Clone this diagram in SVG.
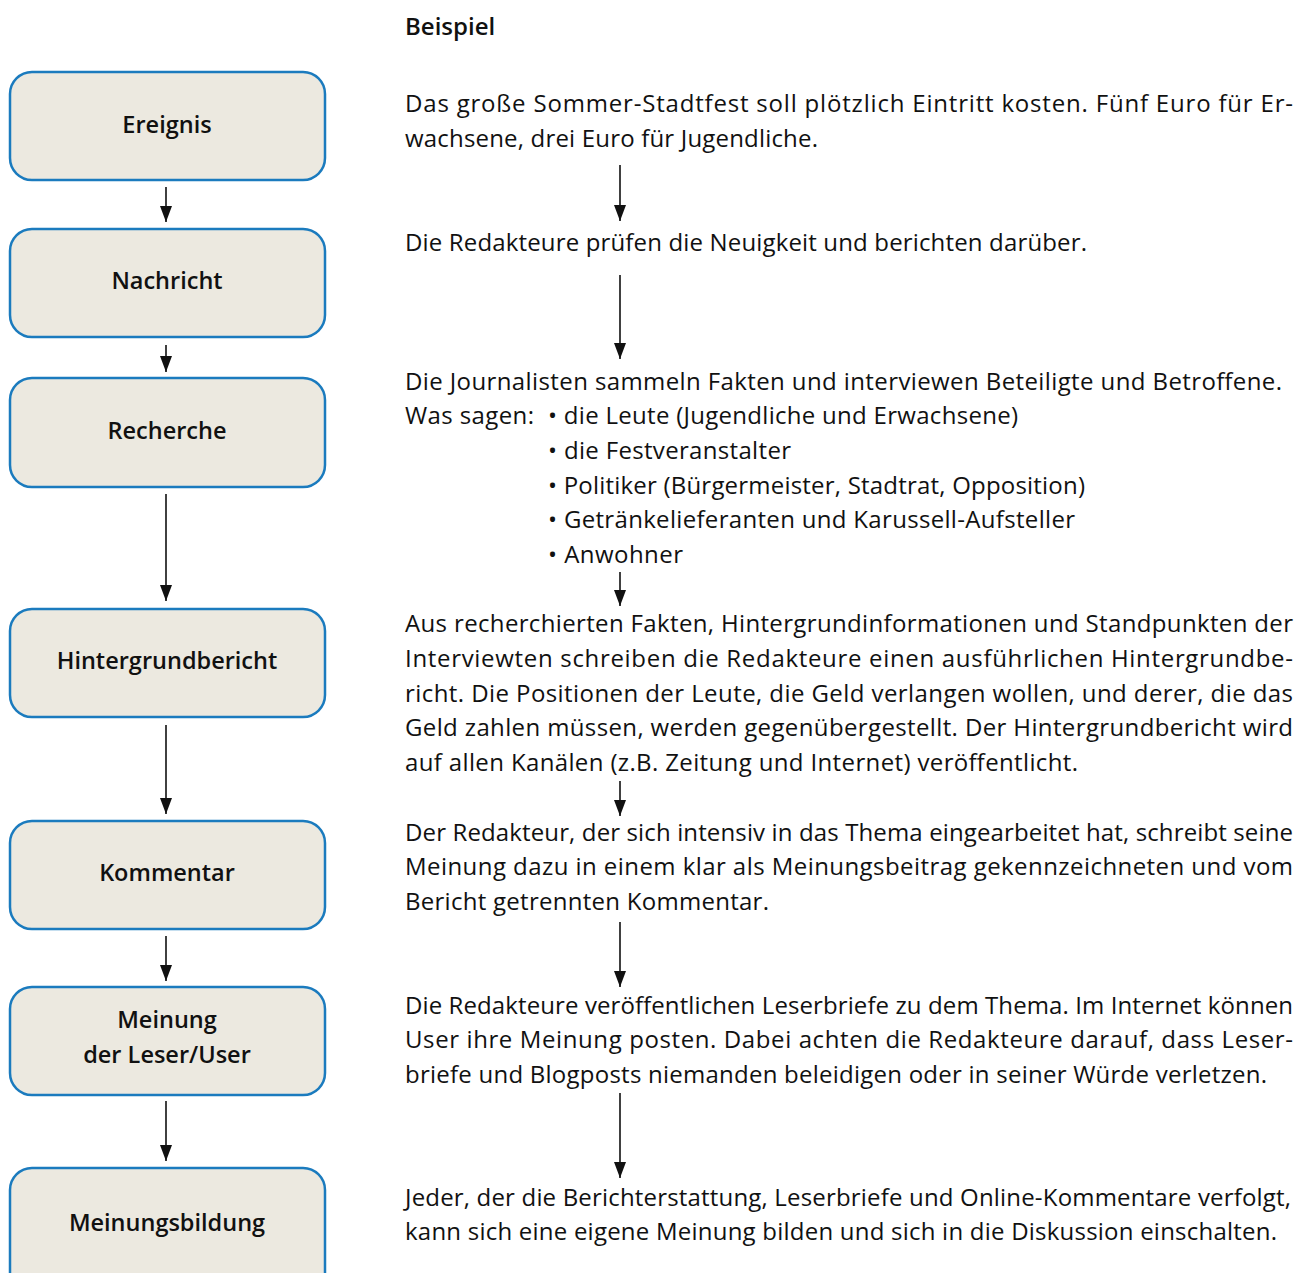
<svg xmlns="http://www.w3.org/2000/svg" width="1302" height="1273" viewBox="0 0 1302 1273">
<style>
.box{fill:#ECE9E0;stroke:#1B7BBE;stroke-width:2.5}
.lbl{font-family:"Open Sans","Noto Sans",sans-serif;font-weight:600;font-size:23.5px;fill:#111;text-anchor:middle}
.t{font-family:"Open Sans","Noto Sans",sans-serif;font-size:24px;fill:#111}
.h{font-family:"Open Sans","Noto Sans",sans-serif;font-weight:600;font-size:24px;fill:#111}
.c{stroke:#111;stroke-width:1.6;fill:none;marker-end:url(#ah)}
</style>
<defs>
<marker id="ah" markerUnits="userSpaceOnUse" markerWidth="16" markerHeight="12" viewBox="0 0 16 12" refX="16" refY="6" orient="auto">
<path d="M0,0 L16,6 L0,12 Z" fill="#111"/>
</marker>
</defs>
<rect width="1302" height="1273" fill="#fff"/>
<g id="node-ereignis"><rect class="box" x="10" y="72" width="315" height="108" rx="22"/><text class="lbl" x="167" y="133">Ereignis</text></g>
<g id="node-nachricht"><rect class="box" x="10" y="229" width="315" height="108" rx="22"/><text class="lbl" x="167" y="289">Nachricht</text></g>
<g id="node-recherche"><rect class="box" x="10" y="378" width="315" height="109" rx="22"/><text class="lbl" x="167" y="439">Recherche</text></g>
<g id="node-hintergrundbericht"><rect class="box" x="10" y="609" width="315" height="108" rx="22"/><text class="lbl" x="167" y="669">Hintergrundbericht</text></g>
<g id="node-kommentar"><rect class="box" x="10" y="821" width="315" height="108" rx="22"/><text class="lbl" x="167" y="881">Kommentar</text></g>
<g id="node-meinung"><rect class="box" x="10" y="987" width="315" height="108" rx="22"/><text class="lbl" x="167" y="1028">Meinung</text><text class="lbl" x="167" y="1063">der Leser/User</text></g>
<g id="node-meinungsbildung"><rect class="box" x="10" y="1168" width="315" height="130" rx="22"/><text class="lbl" x="167" y="1231">Meinungsbildung</text></g>
<g id="connectors">
<line class="c" x1="166" y1="187" x2="166" y2="222"/>
<line class="c" x1="166" y1="345" x2="166" y2="372"/>
<line class="c" x1="166" y1="494" x2="166" y2="601"/>
<line class="c" x1="166" y1="725" x2="166" y2="814"/>
<line class="c" x1="166" y1="936" x2="166" y2="981"/>
<line class="c" x1="166" y1="1101" x2="166" y2="1161"/>
<line class="c" x1="620" y1="165" x2="620" y2="221"/>
<line class="c" x1="620" y1="275" x2="620" y2="359"/>
<line class="c" x1="620" y1="572" x2="620" y2="606"/>
<line class="c" x1="620" y1="781" x2="620" y2="816"/>
<line class="c" x1="620" y1="922" x2="620" y2="987"/>
<line class="c" x1="620" y1="1093" x2="620" y2="1178"/>
</g>
<g id="text">
<text class="h" x="405" y="35">Beispiel</text>
<text class="t" x="405" y="112" textLength="888" lengthAdjust="spacing">Das große Sommer-Stadtfest soll plötzlich Eintritt kosten. Fünf Euro für Er-</text>
<text class="t" x="405" y="147" textLength="413" lengthAdjust="spacing">wachsene, drei Euro für Jugendliche.</text>
<text class="t" x="405" y="251" textLength="682" lengthAdjust="spacing">Die Redakteure prüfen die Neuigkeit und berichten darüber.</text>
<text class="t" x="405" y="390" textLength="877" lengthAdjust="spacing">Die Journalisten sammeln Fakten und interviewen Beteiligte und Betroffene.</text>
<text class="t" x="405" y="424" textLength="129" lengthAdjust="spacing">Was sagen:</text>
<text class="t" x="548" y="424" textLength="470" lengthAdjust="spacing">• die Leute (Jugendliche und Erwachsene)</text>
<text class="t" x="548" y="459" textLength="243" lengthAdjust="spacing">• die Festveranstalter</text>
<text class="t" x="548" y="494" textLength="537" lengthAdjust="spacing">• Politiker (Bürgermeister, Stadtrat, Opposition)</text>
<text class="t" x="548" y="528" textLength="527" lengthAdjust="spacing">• Getränkelieferanten und Karussell-Aufsteller</text>
<text class="t" x="548" y="563" textLength="135" lengthAdjust="spacing">• Anwohner</text>
<text class="t" x="405" y="632" textLength="888" lengthAdjust="spacing">Aus recherchierten Fakten, Hintergrundinformationen und Standpunkten der</text>
<text class="t" x="405" y="667" textLength="888" lengthAdjust="spacing">Interviewten schreiben die Redakteure einen ausführlichen Hintergrundbe-</text>
<text class="t" x="405" y="702" textLength="888" lengthAdjust="spacing">richt. Die Positionen der Leute, die Geld verlangen wollen, und derer, die das</text>
<text class="t" x="405" y="736" textLength="888" lengthAdjust="spacing">Geld zahlen müssen, werden gegenübergestellt. Der Hintergrundbericht wird</text>
<text class="t" x="405" y="771" textLength="673" lengthAdjust="spacing">auf allen Kanälen (z.B. Zeitung und Internet) veröffentlicht.</text>
<text class="t" x="405" y="841" textLength="888" lengthAdjust="spacing">Der Redakteur, der sich intensiv in das Thema eingearbeitet hat, schreibt seine</text>
<text class="t" x="405" y="875" textLength="888" lengthAdjust="spacing">Meinung dazu in einem klar als Meinungsbeitrag gekennzeichneten und vom</text>
<text class="t" x="405" y="910" textLength="364" lengthAdjust="spacing">Bericht getrennten Kommentar.</text>
<text class="t" x="405" y="1014" textLength="888" lengthAdjust="spacing">Die Redakteure veröffentlichen Leserbriefe zu dem Thema. Im Internet können</text>
<text class="t" x="405" y="1048" textLength="888" lengthAdjust="spacing">User ihre Meinung posten. Dabei achten die Redakteure darauf, dass Leser-</text>
<text class="t" x="405" y="1083" textLength="862" lengthAdjust="spacing">briefe und Blogposts niemanden beleidigen oder in seiner Würde verletzen.</text>
<text class="t" x="405" y="1206" textLength="886" lengthAdjust="spacing">Jeder, der die Berichterstattung, Leserbriefe und Online-Kommentare verfolgt,</text>
<text class="t" x="405" y="1240" textLength="872" lengthAdjust="spacing">kann sich eine eigene Meinung bilden und sich in die Diskussion einschalten.</text>
</g>
</svg>
